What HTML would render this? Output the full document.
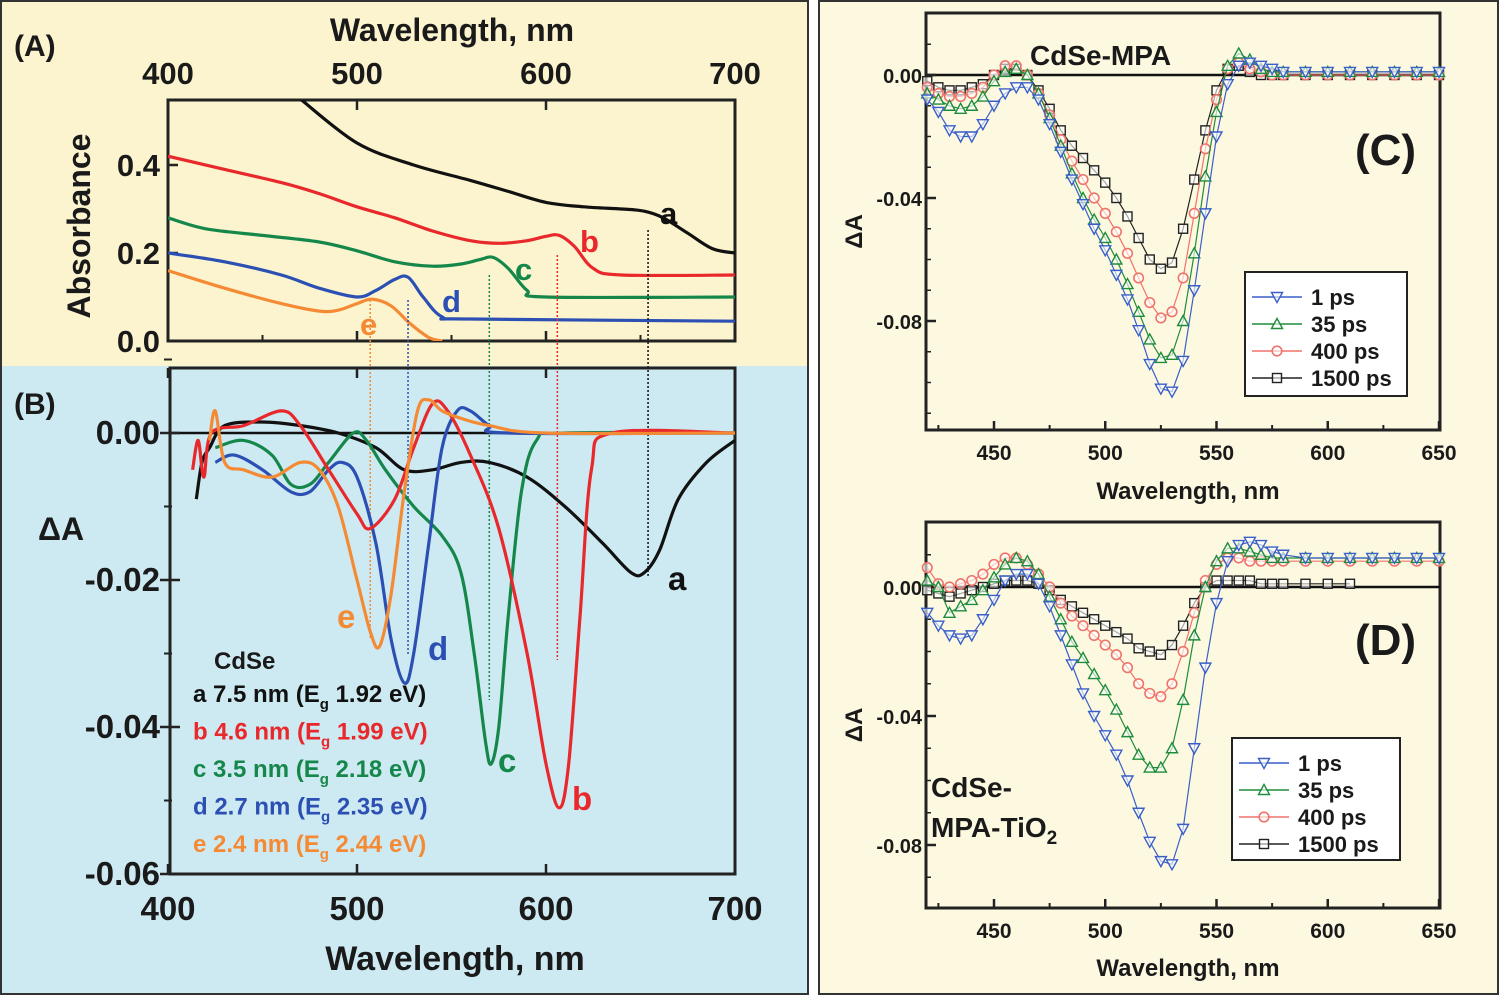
<!DOCTYPE html>
<html><head><meta charset="utf-8">
<style>
html,body{margin:0;padding:0;background:#fff}
svg{display:block}
text{font-family:"Liberation Sans",sans-serif;font-weight:bold}
</style></head>
<body>
<svg id="fig" width="1500" height="996" viewBox="0 0 1500 996" xmlns="http://www.w3.org/2000/svg">
<rect x="0" y="0" width="1500" height="996" fill="#ffffff"/>
<rect x="1" y="1" width="807" height="365" fill="#fbf4cf"/>
<rect x="1" y="366" width="807" height="628" fill="#cdeaf3"/>
<rect x="1" y="1" width="807" height="993" fill="none" stroke="#333" stroke-width="2"/>
<rect x="819" y="1" width="679" height="993" fill="#fdf9e1" stroke="#333" stroke-width="2"/>
<g id="root"></g>
</svg>
<script>
// ---------- Panel A data (absorbance) ----------
const absA = [[470,0.55],[500,0.45],[530,0.40],[560,0.365],[580,0.34],[600,0.315],[620,0.305],[640,0.30],[652,0.295],[662,0.28],[675,0.245],[688,0.21],[700,0.20]];
const absB = [[400,0.42],[430,0.39],[460,0.36],[480,0.335],[500,0.305],[520,0.28],[540,0.25],[560,0.228],[575,0.222],[590,0.228],[600,0.238],[607,0.24],[615,0.215],[625,0.165],[640,0.15],[700,0.15]];
const absC = [[400,0.28],[420,0.255],[450,0.24],[480,0.225],[500,0.205],[520,0.18],[540,0.17],[555,0.175],[565,0.185],[572,0.19],[580,0.165],[590,0.115],[600,0.10],[700,0.10]];
const absD = [[400,0.20],[430,0.18],[460,0.15],[480,0.12],[500,0.10],[510,0.115],[520,0.14],[527,0.145],[535,0.10],[545,0.055],[560,0.05],[700,0.045]];
const absE = [[400,0.16],[430,0.12],[460,0.085],[480,0.068],[490,0.07],[500,0.085],[508,0.095],[518,0.08],[528,0.04],[538,0.008],[545,0.0]];
const ticksAx = [400,500,600,700];
const ticksAy = [0.0,0.2,0.4];
// ---------- Panel B data (ΔA) ----------
const dA_a = [[415,-0.009],[418,-0.004],[422,-0.002],[430,0.001],[450,0.0015],[470,0.001],[490,0.0],[510,-0.002],[525,-0.005],[540,-0.005],[555,-0.004],[570,-0.004],[590,-0.006],[610,-0.010],[630,-0.015],[645,-0.019],[652,-0.019],[660,-0.016],[670,-0.009],[685,-0.004],[700,-0.001]];
const dA_b = [[413,-0.005],[416,-0.001],[419,-0.006],[423,0.0],[440,0.001],[460,0.003],[470,0.001],[485,-0.005],[500,-0.011],[507,-0.013],[520,-0.009],[530,-0.002],[540,0.004],[548,0.003],[560,-0.003],[575,-0.013],[590,-0.030],[600,-0.045],[607,-0.051],[612,-0.045],[618,-0.025],[624,-0.005],[635,0.0],[700,0.0]];
const dA_c = [[425,-0.002],[440,-0.001],[455,-0.003],[465,-0.007],[475,-0.007],[485,-0.004],[498,0.0],[505,-0.001],[515,-0.005],[530,-0.010],[545,-0.014],[555,-0.019],[562,-0.030],[568,-0.042],[571,-0.045],[575,-0.040],[580,-0.025],[587,-0.008],[595,-0.001],[610,0.0],[700,0.0]];
const dA_d = [[425,-0.004],[435,-0.003],[450,-0.005],[465,-0.008],[475,-0.008],[485,-0.005],[492,-0.004],[500,-0.006],[510,-0.015],[518,-0.028],[525,-0.034],[530,-0.030],[538,-0.015],[545,-0.002],[553,0.003],[560,0.003],[570,0.001],[580,0.0],[700,0.0]];
const dA_e = [[422,-0.001],[425,0.003],[430,-0.004],[440,-0.005],[455,-0.006],[470,-0.004],[480,-0.005],[490,-0.010],[500,-0.020],[507,-0.027],[512,-0.029],[518,-0.022],[525,-0.008],[532,0.003],[538,0.0045],[545,0.003],[555,0.002],[570,0.001],[600,0.0],[700,0.0]];
const ticksBy = [0.00,-0.02,-0.04,-0.06];
// ---------- Panel C data ----------
const wlC = [420,425,430,435,440,445,450,455,460,465,470,475,480,485,490,495,500,505,510,515,520,525,530,535,540,545,550,555,560,565,570,575,580,590,600,610,620,630,640,650];
const c1 = [-0.008,-0.012,-0.018,-0.020,-0.020,-0.016,-0.010,-0.006,-0.004,-0.004,-0.008,-0.016,-0.025,-0.034,-0.042,-0.050,-0.057,-0.065,-0.073,-0.083,-0.094,-0.102,-0.103,-0.093,-0.070,-0.045,-0.020,-0.003,0.003,0.004,0.003,0.002,0.001,0.001,0.001,0.001,0.001,0.001,0.001,0.001];
const c35 = [-0.006,-0.008,-0.010,-0.011,-0.010,-0.007,-0.002,0.001,0.002,0.0,-0.006,-0.014,-0.023,-0.032,-0.040,-0.047,-0.053,-0.060,-0.068,-0.077,-0.086,-0.092,-0.091,-0.080,-0.058,-0.033,-0.012,0.003,0.007,0.005,0.002,0.001,0.001,0.001,0.001,0.001,0.001,0.001,0.001,0.001];
const c400 = [-0.004,-0.006,-0.007,-0.007,-0.006,-0.004,0.0,0.003,0.003,0.0,-0.006,-0.013,-0.021,-0.028,-0.034,-0.040,-0.045,-0.051,-0.058,-0.066,-0.074,-0.079,-0.077,-0.066,-0.045,-0.024,-0.008,0.002,0.004,0.002,0.001,0.0,0.0,0.0,0.0,0.0,0.0,0.0,0.0,0.0];
const c1500 = [-0.002,-0.004,-0.005,-0.005,-0.004,-0.003,0.0,0.002,0.002,0.0,-0.005,-0.011,-0.018,-0.023,-0.027,-0.031,-0.035,-0.040,-0.046,-0.053,-0.060,-0.063,-0.061,-0.050,-0.034,-0.018,-0.005,0.002,0.003,0.001,0.0,0.0,0.0,0.0,0.0,0.0,0.0,0.0,0.0,0.0];
// ---------- Panel D data ----------
const d1 = [-0.008,-0.012,-0.015,-0.016,-0.015,-0.010,-0.004,0.002,0.004,0.004,0.001,-0.006,-0.015,-0.024,-0.033,-0.040,-0.046,-0.052,-0.060,-0.070,-0.079,-0.085,-0.086,-0.075,-0.050,-0.025,-0.005,0.008,0.013,0.014,0.013,0.011,0.010,0.009,0.009,0.009,0.009,0.009,0.009,0.009];
const d35 = [0.002,0.0,-0.008,-0.006,-0.004,-0.001,0.003,0.007,0.009,0.008,0.004,-0.003,-0.010,-0.017,-0.022,-0.027,-0.032,-0.038,-0.045,-0.052,-0.056,-0.056,-0.050,-0.035,-0.015,0.0,0.008,0.012,0.012,0.011,0.010,0.009,0.009,0.009,0.009,0.009,0.009,0.009,0.009,0.009];
const d400 = [0.006,0.001,0.0,0.001,0.002,0.004,0.007,0.009,0.009,0.007,0.004,0.0,-0.005,-0.009,-0.012,-0.015,-0.018,-0.021,-0.025,-0.030,-0.033,-0.034,-0.030,-0.020,-0.008,0.002,0.007,0.009,0.009,0.008,0.008,0.008,0.008,0.008,0.008,0.008,0.008,0.008,0.008,0.008];
const d1500 = [-0.001,-0.002,-0.003,-0.002,-0.001,0.0,0.001,0.002,0.002,0.002,0.001,-0.001,-0.004,-0.006,-0.008,-0.010,-0.012,-0.014,-0.016,-0.019,-0.020,-0.021,-0.018,-0.012,-0.005,0.0,0.002,0.002,0.002,0.002,0.001,0.001,0.001,0.001,0.001,0.001,null,null,null,null];
const ticksRx = [450,500,550,600,650];
const ticksRy = [0.00,-0.04,-0.08];
const legendLabels = ["1 ps","35 ps","400 ps","1500 ps"];

const NS = "http://www.w3.org/2000/svg";
const root = document.getElementById('root');
function mk(tag, attrs, parent){
  const e = document.createElementNS(NS, tag);
  for (const k in attrs) e.setAttribute(k, attrs[k]);
  (parent||root).appendChild(e);
  return e;
}
function txt(s, x, y, size, fill, anchor, parent){
  const t = mk('text', {x:x, y:y, 'font-size':size, fill:fill||'#1a1a1a', 'text-anchor':anchor||'start'}, parent);
  t.textContent = s;
  return t;
}
function lin(d0,d1,p0,p1){ return v => p0 + (v-d0)*(p1-p0)/(d1-d0); }
function pathFrom(pts, fx, fy){
  return pts.filter(p=>p[1]!==null).map((p,i)=>(i?'L':'M')+fx(p[0]).toFixed(1)+','+fy(p[1]).toFixed(1)).join(' ');
}
function smoothPath(pts, fx, fy){
  const P = pts.map(p=>[fx(p[0]), fy(p[1])]);
  let d = 'M'+P[0][0].toFixed(1)+','+P[0][1].toFixed(1);
  for (let i=0;i<P.length-1;i++){
    const p0 = P[Math.max(0,i-1)], p1 = P[i], p2 = P[i+1], p3 = P[Math.min(P.length-1,i+2)];
    const c1x = p1[0]+(p2[0]-p0[0])/6, c1y = p1[1]+(p2[1]-p0[1])/6;
    const c2x = p2[0]-(p3[0]-p1[0])/6, c2y = p2[1]-(p3[1]-p1[1])/6;
    d += ` C${c1x.toFixed(1)},${c1y.toFixed(1)} ${c2x.toFixed(1)},${c2y.toFixed(1)} ${p2[0].toFixed(1)},${p2[1].toFixed(1)}`;
  }
  return d;
}

const COL = {black:'#111111', red:'#e8282b', green:'#16874a', blue:'#2c4fb3', orange:'#f58a35'};

// ===== Panel A =====
const xA = lin(400,700,168,735);
const yA = lin(0,0.4,341,165);
const gA = mk('g', {});


mk('rect', {x:168, y:100, width:567, height:241, fill:'none', stroke:'#222', 'stroke-width':3}, gA);
ticksAx.forEach(v=>{
  const t = txt(String(v), xA(v), 84, 31, '#1a1a1a', 'middle', gA);
  
  
  mk('line', {x1:xA(v), x2:xA(v), y1:341, y2:331, stroke:'#222','stroke-width':2.5}, gA);
  mk('line', {x1:xA(v), x2:xA(v), y1:100, y2:110, stroke:'#222','stroke-width':2.5}, gA);
});
for (let v=450; v<700; v+=100){ mk('line', {x1:xA(v), x2:xA(v), y1:341, y2:335, stroke:'#222','stroke-width':2}, gA); }
ticksAy.forEach(v=>{
  const t = txt(v.toFixed(1), 160, yA(v)+11, 31, '#1a1a1a', 'end', gA);
  
  
  mk('line', {x1:168, x2:178, y1:yA(v), y2:yA(v), stroke:'#222','stroke-width':2.5}, gA);
});
const guides = [[507,'orange',300,640],[527,'blue',300,655],[570,'green',275,700],[606,'red',255,660],[654,'black',230,578]];
guides.forEach(g=>{
  const l = mk('line', {x1:xA(g[0]), x2:xA(g[0]), y1:g[2], y2:g[3], stroke:COL[g[1]], 'stroke-width':1.5, 'stroke-dasharray':'2,2'});
  
  
});
const clipA = mk('clipPath', {id:'clipA'}); mk('rect', {x:168,y:100,width:567,height:241}, clipA);
[[absA,'black','a'],[absB,'red','b'],[absC,'green','c'],[absD,'blue','d'],[absE,'orange','e']].forEach(s=>{
  const p = mk('path', {d:smoothPath(s[0],xA,yA), fill:'none', stroke:COL[s[1]], 'stroke-width':3.2, 'clip-path':'url(#clipA)'}, gA);
  
  
});
[['a',660,224,'black'],['b',580,252,'red'],['c',515,280,'green'],['d',442,312,'blue'],['e',360,335,'orange']].forEach(l=>{
  const t = txt(l[0], l[1], l[2], 31, COL[l[3]], 'start', gA);
  
  
});
const tA = txt('(A)', 14, 56, 30, '#1a1a1a', 'start', gA);
 
const tAx = txt('Wavelength, nm', 452, 41, 32, '#1a1a1a', 'middle', gA);
 
const tAy = mk('text', {x:0, y:0, 'font-size':32, fill:'#1a1a1a', 'text-anchor':'middle', transform:'translate(90,226) rotate(-90)'}, gA);
tAy.textContent = 'Absorbance';
 

// ===== Panel B =====
const xB = lin(400,700,168,735);
const yB = lin(0,-0.02,433,580);
const gB = mk('g', {});


mk('rect', {x:170, y:368, width:565, height:506, fill:'none', stroke:'#222', 'stroke-width':3}, gB);
mk('line', {x1:170, x2:735, y1:yB(0), y2:yB(0), stroke:'#111','stroke-width':2.5}, gB);
ticksAx.forEach(v=>{
  const t = txt(String(v), xB(v), 920, 33, '#1a1a1a', 'middle', gB);
  
  
  mk('line', {x1:xB(v), x2:xB(v), y1:874, y2:864, stroke:'#222','stroke-width':2.5}, gB);
  mk('line', {x1:xB(v), x2:xB(v), y1:368, y2:378, stroke:'#222','stroke-width':2.5}, gB);
});
for (let v=0.01; v>-0.06; v-=0.01){ mk('line', {x1:164, x2:172, y1:yB(v), y2:yB(v), stroke:'#222','stroke-width':2}, gB); }
ticksBy.forEach(v=>{
  const t = txt(v.toFixed(2), 160, yB(v)+11, 33, '#1a1a1a', 'end', gB);
  
  
  mk('line', {x1:160, x2:180, y1:yB(v), y2:yB(v), stroke:'#222','stroke-width':2.5}, gB);
});
[[dA_a,'black','a'],[dA_c,'green','c'],[dA_d,'blue','d'],[dA_b,'red','b'],[dA_e,'orange','e']].forEach(s=>{
  const p = mk('path', {d:smoothPath(s[0],xB,yB), fill:'none', stroke:COL[s[1]], 'stroke-width':3.2}, gB);
  
  
});
[['a',668,590,'black'],['b',572,810,'red'],['c',498,772,'green'],['d',428,660,'blue'],['e',337,628,'orange']].forEach(l=>{
  const t = txt(l[0], l[1], l[2], 33, COL[l[3]], 'start', gB);
  
  
});
const legB = mk('g', {}, gB);


txt('CdSe', 214, 669, 24, '#1a1a1a', 'start', legB);
[['a 7.5 nm (E','1.92 eV)','black'],['b 4.6 nm (E','1.99 eV)','red'],['c 3.5 nm (E','2.18 eV)','green'],['d 2.7 nm (E','2.35 eV)','blue'],['e 2.4 nm (E','2.44 eV)','orange']].forEach((r,i)=>{
  const y = 702 + i*37.5;
  const t = mk('text', {x:193, y:y, 'font-size':24, fill:COL[r[2]]}, legB);
  
  
  const s1 = mk('tspan', {}, t); s1.textContent = r[0];
  const s2 = mk('tspan', {'font-size':15, dy:7}, t); s2.textContent = 'g';
  const s3 = mk('tspan', {dy:-7}, t); s3.textContent = ' ' + r[1];
});
const tB = txt('(B)', 14, 414, 30, '#1a1a1a', 'start', gB);
 
const tBy = txt('ΔA', 38, 540, 32, '#1a1a1a', 'start', gB);
 
const tBx = txt('Wavelength, nm', 455, 970, 34, '#1a1a1a', 'middle', gB);
 

// ===== Panels C and D =====
const RCOL = ['#3a5fc8','#1e8c3a','#f0736a','#222222'];
function marker(g, kind, cx, cy, col){
  if (kind===0) mk('path', {d:`M${cx-5.5},${cy-4.5} L${cx+5.5},${cy-4.5} L${cx},${cy+5.5} Z`, fill:'#fff', 'fill-opacity':0.6, stroke:col, 'stroke-width':1.4}, g);
  else if (kind===1) mk('path', {d:`M${cx-5.5},${cy+4.5} L${cx+5.5},${cy+4.5} L${cx},${cy-5.5} Z`, fill:'#fff', 'fill-opacity':0.6, stroke:col, 'stroke-width':1.4}, g);
  else if (kind===2) mk('circle', {cx:cx, cy:cy, r:4.8, fill:'#fff', 'fill-opacity':0.6, stroke:col, 'stroke-width':1.6}, g);
  else mk('rect', {x:cx-4.5, y:cy-4.5, width:9, height:9, fill:'#fff', 'fill-opacity':0.6, stroke:col, 'stroke-width':1.4}, g);
}
function rightPanel(name, top, bottom, y0, y04, series, legBox, label, labelY, xTickY, titleY){
  const fx = lin(450,650,994,1439);
  const fy = lin(0,-0.04,y0,y04);
  const g = mk('g', {});
  
  
  mk('rect', {x:926, y:top, width:514, height:bottom-top, fill:'none', stroke:'#222', 'stroke-width':3}, g);
  mk('line', {x1:926, x2:1440, y1:fy(0), y2:fy(0), stroke:'#111','stroke-width':2.5}, g);
  ticksRx.forEach(v=>{
    const t = txt(String(v), fx(v), xTickY, 21, '#1a1a1a', 'middle', g);
    
    
    mk('line', {x1:fx(v), x2:fx(v), y1:bottom, y2:bottom-9, stroke:'#222','stroke-width':2.5}, g);
    if (v<650) mk('line', {x1:fx(v+25), x2:fx(v+25), y1:bottom, y2:bottom-5, stroke:'#222','stroke-width':2}, g);
  });
  mk('line', {x1:fx(425), x2:fx(425), y1:bottom, y2:bottom-5, stroke:'#222','stroke-width':2}, g);
  ticksRy.forEach(v=>{
    const t = txt(v.toFixed(2), 922, fy(v)+8, 20, '#1a1a1a', 'end', g);
    
    
    mk('line', {x1:926, x2:936, y1:fy(v), y2:fy(v), stroke:'#222','stroke-width':2.5}, g);
  });
  for (let v=0.01; v>-0.12; v-=0.01){ const yy=fy(v); if (yy>top+2 && yy<bottom-2) mk('line', {x1:926, x2:931, y1:yy, y2:yy, stroke:'#222','stroke-width':1.5}, g); }
  series.slice().reverse().forEach((vals, ri)=>{
    const k = series.length-1-ri;
    const pts = wlC.map((w,i)=>[w, vals[i]]);
    const sg = mk('g', {}, g);
    
    
    mk('path', {d:pathFrom(pts,fx,fy), fill:'none', stroke:RCOL[k], 'stroke-width':1.2}, sg);
    pts.forEach(p=>{ if (p[1]!==null) marker(sg, k, fx(p[0]), fy(p[1]), RCOL[k]); });
  });
  const lg = mk('g', {}, g);
  
  
  mk('rect', {x:legBox[0], y:legBox[1], width:legBox[2], height:legBox[3], fill:'#fff', stroke:'#222', 'stroke-width':2}, lg);
  legendLabels.forEach((s,k)=>{
    const y = legBox[1]+25+k*27;
    mk('line', {x1:legBox[0]+7, x2:legBox[0]+57, y1:y, y2:y, stroke:RCOL[k], 'stroke-width':1.4}, lg);
    marker(lg, k, legBox[0]+32, y, RCOL[k]);
    const t = txt(s, legBox[0]+66, y+8, 22, '#1a1a1a', 'start', lg);
    
    
  });
  const pl = txt(label, 1355, labelY, 44, '#1a1a1a', 'start', g);
   
  const yt = mk('text', {x:0, y:0, 'font-size':24, fill:'#1a1a1a', 'text-anchor':'middle', transform:`translate(862,${(top+bottom)/2+10}) rotate(-90)`}, g);
  yt.textContent = 'ΔA';
   
  const xt = txt('Wavelength, nm', 1188, titleY, 24, '#1a1a1a', 'middle', g);
   
  return g;
}
const gC = rightPanel('panel-c', 13, 430, 75, 198, [c1,c35,c400,c1500], [1245,272,162,124], '(C)', 165, 460, 499);
const tc = txt('CdSe-MPA', 1030, 65, 28, '#1a1a1a', 'start', gC);
 
const gD = rightPanel('panel-d', 522, 908, 587, 716, [d1,d35,d400,d1500], [1232,738,168,122], '(D)', 655, 938, 976);
const td1 = txt('CdSe-', 931, 797, 28, '#1a1a1a', 'start', gD);
 
const td2 = mk('text', {x:931, y:837, 'font-size':28, fill:'#1a1a1a'}, gD);
 
const sp1 = mk('tspan', {}, td2); sp1.textContent = 'MPA-TiO';
const sp2 = mk('tspan', {'font-size':19, dy:7}, td2); sp2.textContent = '2';
</script>
</body></html>
